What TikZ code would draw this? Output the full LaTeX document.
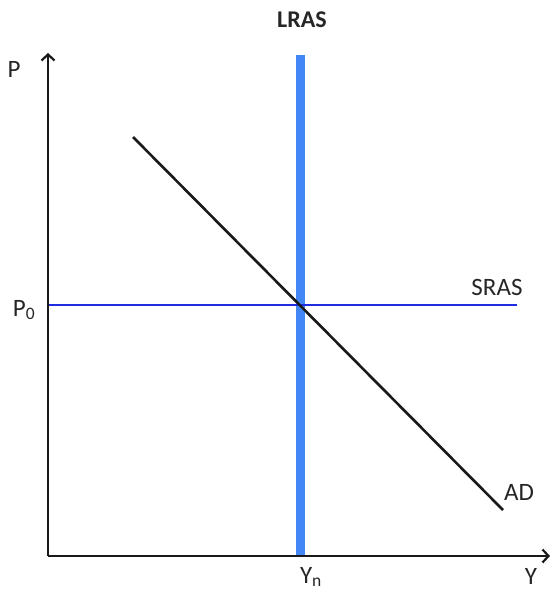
\documentclass[tikz,border=0pt]{standalone}
\usepackage{fontspec}
\setmainfont{Carlito}
\usepackage{tikz}
\usetikzlibrary{arrows.meta,positioning,calc}
\definecolor{lrasblue}{RGB}{66,135,245}
\definecolor{srasblue}{RGB}{30,45,225}
\tikzset{
    axis/.style={-{Straight Barb[length=6pt,width=13pt,line width=2.2pt]},line width=2.6pt,black!90},
    lras/.style={-,line width=9pt,lrasblue},
    sras/.style={-,line width=2pt,srasblue},
    adline/.style={-,line width=2.6pt,black!90},
    lbl/.style={inner sep=0pt,font=\fontsize{25}{29}\selectfont,text=black!85},
    spot/.style = {inner sep=0pt,outer sep=0pt,minimum size=0pt},
}
\begin{document}
\begin{tikzpicture}[x=1pt,y=-1pt]
                \useasboundingbox (0,0) rectangle (554,592);
                \coordinate (o) at (48,556);
                \coordinate (ytop) at (48,53);
                \coordinate (xend) at (550,556);
                \coordinate (ltop) at (300,55);
                \coordinate (lbot) at (300,556);
                \coordinate (sleft) at (48,305);
                \coordinate (sright) at (517,305);
                \coordinate (adtop) at (133,137);
                \coordinate (adbot) at (503,510);
                \draw[lras] (ltop) -- (lbot);
                \draw[sras] (sleft) -- (sright);
                \draw[adline] (adtop) -- (adbot);
                \draw[axis] (o) -- (ytop);
                \draw[axis] (o) -- (xend);
                \node[lbl] (p) at (14,69) {P};
                \node[lbl,font=\fontsize{24}{28}\selectfont\bfseries] (lrasl) at (302,20) {LRAS};
                \node[lbl] (p0) at (24,310) {P\textsubscript{0}};
                \node[lbl] (srasl) at (497,287) {SRAS};
                \node[lbl] (adl) at (519,492) {AD};
                \node[lbl] (yn) at (311,577) {Y\textsubscript{n}};
                \node[lbl] (y) at (531,576) {Y};
%                \draw[->] (adtop) -- (adbot);
            \end{tikzpicture}
\end{document}
